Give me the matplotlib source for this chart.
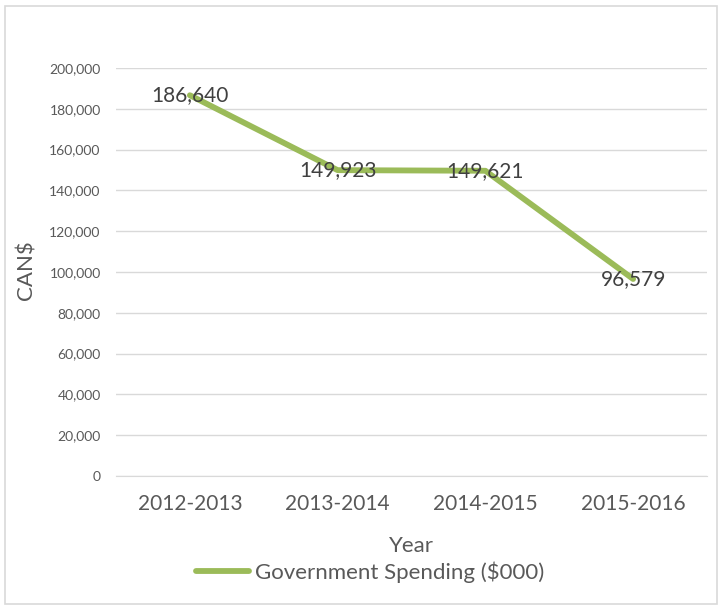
import matplotlib.pyplot as plt
from matplotlib.patches import Rectangle
from matplotlib.ticker import FuncFormatter

years = ["2012-2013", "2013-2014", "2014-2015", "2015-2016"]
spending = [186640, 149923, 149621, 96579]

green = "#9BBB59"
grey = "#595959"
plt.rcParams["font.family"] = ["Lato", "DejaVu Sans"]

fig = plt.figure(figsize=(7.22, 6.09), dpi=100)
# plot area in figure pixels: x 116..707, y 68..476 (from top)
ax = fig.add_axes([116 / 722, 1 - 476 / 609, 591 / 722, 408 / 609])

# outer chart frame
fig.patches.append(Rectangle((0.007, 0.008), 0.986, 0.982, transform=fig.transFigure,
                             fill=False, edgecolor="#D9D9D9", linewidth=1.2))

x = range(len(years))
line, = ax.plot(x, spending, color=green, linewidth=4.2, solid_capstyle="round",
                label="Government Spending ($000)", zorder=3)
for xi, v in zip(x, spending):
    ax.text(xi, v, f"{v:,}", ha="center", va="center", fontsize=15, color="#404040", zorder=4)

ax.set_xlim(-0.5, len(years) - 0.5)
ax.set_ylim(0, 200000)
ax.set_yticks(range(0, 200001, 20000))
ax.yaxis.set_major_formatter(FuncFormatter(lambda v, p: f"{int(v):,}"))
ax.set_xticks(list(x))
ax.set_xticklabels(years)
ax.grid(axis="y", color="#D9D9D9", linewidth=1)
ax.set_axisbelow(True)
for s in ["top", "right", "left"]:
    ax.spines[s].set_visible(False)
ax.spines["bottom"].set_color("#D9D9D9")
ax.tick_params(axis="both", length=0, colors=grey)
ax.tick_params(axis="y", labelsize=10, pad=11)
ax.tick_params(axis="x", labelsize=15, pad=13)

ax.set_xlabel("Year", fontsize=16, color=grey, va="center")
ax.xaxis.set_label_coords(0.5, -70 / 408)
ax.set_ylabel("CAN$", fontsize=16, color=grey, va="center")
ax.yaxis.set_label_coords(-89 / 591, 0.505)

fig.legend(handles=[line], loc="center", bbox_to_anchor=(370 / 722, 1 - 572 / 609),
           frameon=False, fontsize=16, labelcolor=grey, handlelength=2.4,
           handletextpad=0.25, borderpad=0)

fig.savefig("out.png", dpi=100)
